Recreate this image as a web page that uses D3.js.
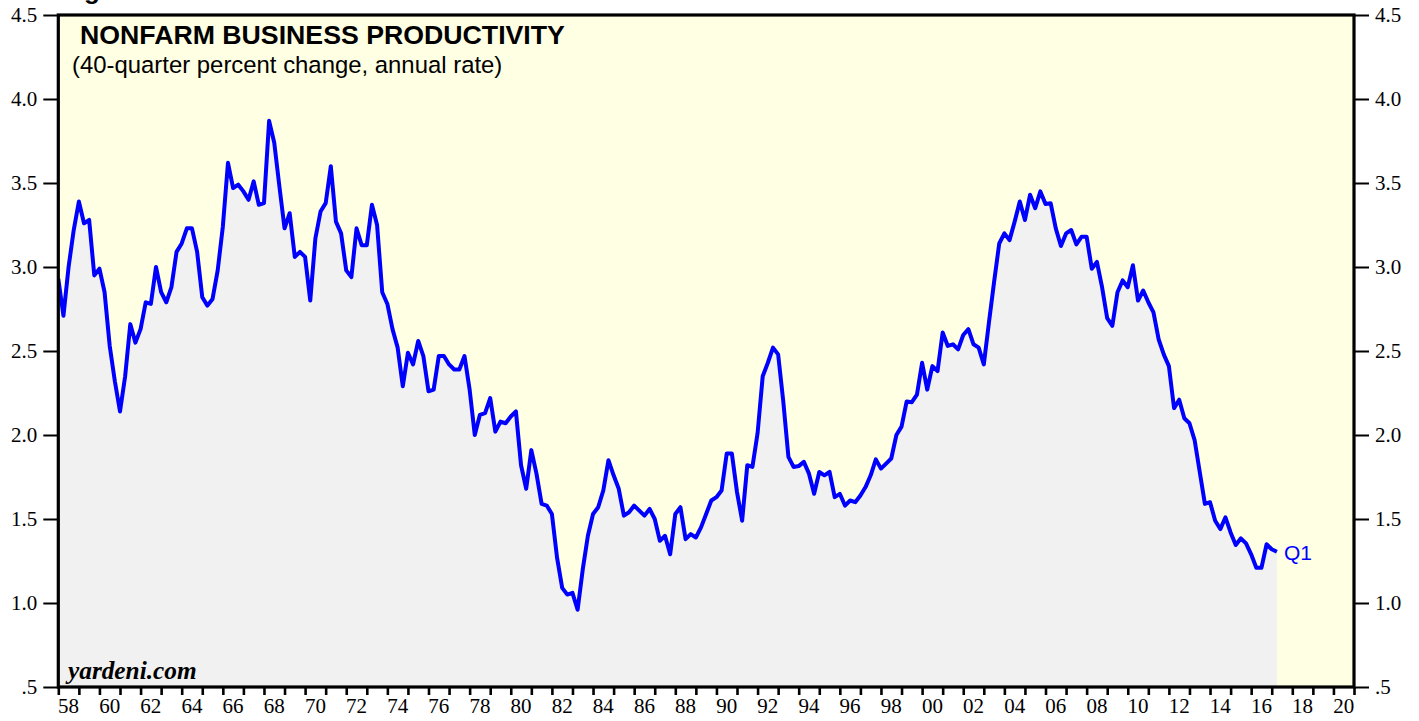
<!DOCTYPE html>
<html>
<head>
<meta charset="utf-8">
<script src="https://cdn.jsdelivr.net/npm/d3@7"></script>
<style>
  html, body { margin: 0; padding: 0; background: #ffffff; }
  svg { display: block; }
</style>
</head>
<body>
<svg id="chart" width="1419" height="721"></svg>
<script>
// ---------------- DATA ----------------
// Quarterly series, first observation 1957 Q4, last 2017 Q1
const firstYear = 1957;
const firstQuarter = 4;
const productivity = [
  2.93,
  2.71, 3.00, 3.22, 3.39,   // 1958
  3.26, 3.28, 2.95, 2.99,   // 1959
  2.85, 2.53, 2.32, 2.14,   // 1960
  2.35, 2.66, 2.55, 2.63,   // 1961
  2.79, 2.78, 3.00, 2.85,   // 1962
  2.79, 2.88, 3.09, 3.14,   // 1963
  3.23, 3.23, 3.09, 2.82,   // 1964
  2.77, 2.81, 2.98, 3.24,   // 1965
  3.62, 3.47, 3.49, 3.45,   // 1966
  3.40, 3.51, 3.37, 3.38,   // 1967
  3.87, 3.74, 3.48, 3.23,   // 1968
  3.32, 3.06, 3.09, 3.06,   // 1969
  2.80, 3.17, 3.33, 3.38,   // 1970
  3.60, 3.27, 3.20, 2.98,   // 1971
  2.94, 3.23, 3.13, 3.13,   // 1972
  3.37, 3.25, 2.85, 2.78,   // 1973
  2.63, 2.52, 2.29, 2.49,   // 1974
  2.42, 2.56, 2.47, 2.26,   // 1975
  2.27, 2.47, 2.47, 2.42,   // 1976
  2.39, 2.39, 2.47, 2.27,   // 1977
  2.00, 2.12, 2.13, 2.22,   // 1978
  2.02, 2.08, 2.07, 2.11,   // 1979
  2.14, 1.82, 1.68, 1.91,   // 1980
  1.77, 1.59, 1.58, 1.53,   // 1981
  1.27, 1.09, 1.05, 1.06,   // 1982
  0.96, 1.20, 1.40, 1.53,   // 1983
  1.57, 1.67, 1.85, 1.76,   // 1984
  1.68, 1.52, 1.54, 1.58,   // 1985
  1.55, 1.52, 1.56, 1.50,   // 1986
  1.37, 1.40, 1.29, 1.53,   // 1987
  1.57, 1.38, 1.41, 1.39,   // 1988
  1.45, 1.53, 1.61, 1.63,   // 1989
  1.67, 1.89, 1.89, 1.66,   // 1990
  1.49, 1.82, 1.81, 2.01,   // 1991
  2.35, 2.43, 2.52, 2.48,   // 1992
  2.20, 1.87, 1.81, 1.815,  // 1993
  1.84, 1.77, 1.65, 1.78,   // 1994
  1.76, 1.78, 1.63, 1.65,   // 1995
  1.58, 1.61, 1.60, 1.64,   // 1996
  1.69, 1.76, 1.855, 1.80,  // 1997
  1.83, 1.86, 2.00, 2.05,   // 1998
  2.20, 2.195, 2.24, 2.43,  // 1999
  2.27, 2.41, 2.38, 2.61,   // 2000
  2.53, 2.54, 2.51, 2.595,  // 2001
  2.63, 2.54, 2.52, 2.42,   // 2002
  2.67, 2.91, 3.14, 3.20,   // 2003
  3.16, 3.27, 3.39, 3.28,   // 2004
  3.43, 3.35, 3.45, 3.375,  // 2005
  3.38, 3.23, 3.125, 3.20,  // 2006
  3.22, 3.135, 3.18, 3.18,  // 2007
  2.99, 3.03, 2.88, 2.695,  // 2008
  2.65, 2.85, 2.92, 2.88,   // 2009
  3.01, 2.80, 2.86, 2.79,   // 2010
  2.73, 2.57, 2.48, 2.41,   // 2011
  2.16, 2.21, 2.10, 2.07,   // 2012
  1.97, 1.78, 1.59, 1.60,   // 2013
  1.49, 1.44, 1.51, 1.42,   // 2014
  1.345, 1.385, 1.355, 1.29,// 2015
  1.21, 1.21, 1.35, 1.32,   // 2016
  1.305                     // 2017 Q1
];
const yTicks = [0.5, 1.0, 1.5, 2.0, 2.5, 3.0, 3.5, 4.0, 4.5];
const yTickLabels = [".5", "1.0", "1.5", "2.0", "2.5", "3.0", "3.5", "4.0", "4.5"];
const xLabelYears = [1958,1960,1962,1964,1966,1968,1970,1972,1974,1976,1978,1980,1982,1984,1986,1988,1990,1992,1994,1996,1998,2000,2002,2004,2006,2008,2010,2012,2014,2016,2018,2020];
const xLabels = ["58","60","62","64","66","68","70","72","74","76","78","80","82","84","86","88","90","92","94","96","98","00","02","04","06","08","10","12","14","16","18","20"];
const titleText = "NONFARM BUSINESS PRODUCTIVITY";
const subtitleText = "(40-quarter percent change, annual rate)";
const sourceText = "yardeni.com";
const lastLabel = "Q1";

// ---------------- CHART ----------------
const svg = d3.select("#chart");
const L = 58.3, R = 1354, T = 15, B = 687;
const x = d3.scaleLinear().domain([1958, 2021]).range([L, R]);
const y = d3.scaleLinear().domain([0.5, 4.5]).range([B, T]);

const data = productivity.map((v, i) => {
  const qIndex = (firstQuarter - 1) + i;
  const yr = firstYear + Math.floor(qIndex / 4);
  const q = (qIndex % 4) + 1;
  return { t: yr + q / 4, v: v };
});

const serif = "'Liberation Serif','Times New Roman',Times,serif";
const sans = "'Liberation Sans',Arial,Helvetica,sans-serif";

svg.append("defs").append("clipPath").attr("id", "plotclip")
  .append("rect").attr("x", L).attr("y", T).attr("width", R - L).attr("height", B - T);

// background
svg.append("rect").attr("x", L).attr("y", T).attr("width", R - L).attr("height", B - T)
  .attr("fill", "#ffffe3");

const g = svg.append("g").attr("clip-path", "url(#plotclip)");

const area = d3.area().x(d => x(d.t)).y0(y(0.5)).y1(d => y(d.v));
g.append("path").datum(data).attr("d", area).attr("fill", "#f1f1f1");

const line = d3.line().x(d => x(d.t)).y(d => y(d.v));
g.append("path").datum(data).attr("d", line)
  .attr("fill", "none").attr("stroke", "#0000ff").attr("stroke-width", 4)
  .attr("stroke-linejoin", "round").attr("stroke-linecap", "butt");

// axes
const yAxisL = d3.axisLeft(y).tickValues(yTicks).tickFormat((d, i) => yTickLabels[i]).tickSize(15).tickPadding(6);
const yAxisR = d3.axisRight(y).tickValues(yTicks).tickFormat((d, i) => yTickLabels[i]).tickSize(15).tickPadding(6);
const xAxis = d3.axisBottom(x).tickValues(d3.range(1958, 2022)).tickFormat("").tickSize(8);

function styleAxis(sel) {
  sel.select(".domain").remove();
  sel.selectAll(".tick line").attr("stroke", "#000").attr("stroke-width", 2);
  sel.selectAll(".tick text").attr("fill", "#000").style("font-family", serif).style("font-size", "21px");
}
svg.append("g").attr("transform", `translate(${L},0)`).call(yAxisL).call(styleAxis);
svg.append("g").attr("transform", `translate(${R},0)`).call(yAxisR).call(styleAxis);
const xa = svg.append("g").attr("transform", `translate(0,${B})`).call(xAxis).call(styleAxis);
xa.selectAll(".tick line").attr("stroke-width", 2.6);

svg.append("g").selectAll("text").data(xLabelYears).join("text")
  .attr("x", (d) => x(d + 0.5)).attr("y", 713)
  .attr("text-anchor", "middle")
  .style("font-family", serif).style("font-size", "21px").attr("fill", "#000")
  .text((d, i) => xLabels[i]);

// frame
svg.append("rect").attr("x", L).attr("y", T).attr("width", R - L).attr("height", B - T)
  .attr("fill", "none").attr("stroke", "#000").attr("stroke-width", 3.2);

// texts
svg.append("text").attr("x", 84).attr("y", -1.5).text("g")
  .style("font-family", sans).style("font-weight", "bold").style("font-size", "26px");

svg.append("text").attr("x", 80).attr("y", 44).text(titleText)
  .style("font-family", sans).style("font-weight", "bold").style("font-size", "26.7px").attr("fill", "#000");
svg.append("text").attr("x", 72).attr("y", 73).text(subtitleText)
  .style("font-family", sans).style("font-size", "23.9px").attr("fill", "#000");
svg.append("text").attr("x", 68).attr("y", 679).text(sourceText)
  .style("font-family", serif).style("font-weight", "bold").style("font-style", "italic").style("font-size", "25.3px").attr("fill", "#000");

const last = data[data.length - 1];
svg.append("text").attr("x", x(last.t) + 7).attr("y", y(last.v) + 8).text(lastLabel)
  .style("font-family", sans).style("font-size", "21px").attr("fill", "#0000ff");
</script>
</body>
</html>
